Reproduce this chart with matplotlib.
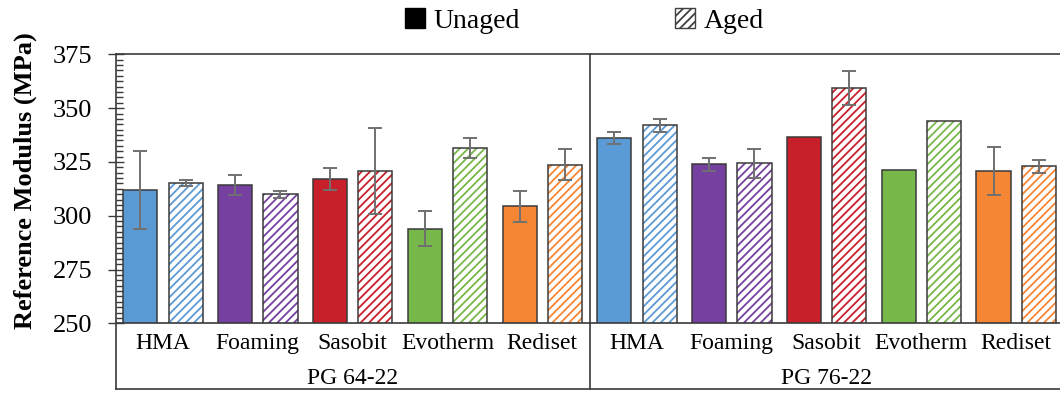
import matplotlib
matplotlib.use('Agg')
import matplotlib.pyplot as plt
from matplotlib.patches import Patch
from matplotlib.ticker import MultipleLocator
import numpy as np

plt.rcParams['font.family'] = ['Liberation Serif', 'DejaVu Serif']
plt.rcParams['hatch.linewidth'] = 1.3

mixes = ['HMA', 'Foaming', 'Sasobit', 'Evotherm', 'Rediset']
binders = ['PG 64-22', 'PG 76-22']
categories = mixes * 2
unaged = [312.0, 314.3, 317.1, 294.0, 304.4, 336.1, 323.9, 336.7, 321.4, 320.8]
unaged_err = [18.0, 4.7, 5.0, 8.0, 7.3, 3.0, 3.1, 0.0, 0.0, 11.2]
aged = [315.1, 309.9, 320.8, 331.5, 323.7, 342.0, 324.3, 359.5, 344.0, 323.0]
aged_err = [1.5, 1.8, 20.0, 4.8, 7.1, 3.1, 6.6, 7.9, 0.0, 3.0]
mix_colors = ['#5B9BD5', '#7540A0', '#C8202A', '#76B84A', '#F58634']
colors = mix_colors * 2

fig = plt.figure(figsize=(10.6, 3.94), dpi=100)
ax = fig.add_axes([0.1091, 0.1794, 0.8943, 0.6827])

x = np.arange(len(categories))
off = 0.239
w = 0.36
edge = '#3A3A3A'
errc = '#707070'

ax.bar(x - off, unaged, w, color=colors, edgecolor=edge, linewidth=1.1, zorder=2)
ax.bar(x + off, aged, w, color='white', edgecolor=colors, hatch='////', linewidth=0, zorder=2)
ax.bar(x + off, aged, w, fill=False, edgecolor=edge, linewidth=1.1, zorder=3)

ue = np.array(unaged_err); ae = np.array(aged_err)
m = ue > 0
ax.errorbar((x - off)[m], np.array(unaged)[m], yerr=ue[m], fmt='none', ecolor=errc,
            elinewidth=1.4, capsize=5, capthick=1.4, zorder=4)
m = ae > 0
ax.errorbar((x + off)[m], np.array(aged)[m], yerr=ae[m], fmt='none', ecolor=errc,
            elinewidth=1.4, capsize=5, capthick=1.4, zorder=4)

ax.set_xlim(-0.5, len(categories) - 0.5)
ax.set_ylim(250, 375)
ax.yaxis.set_major_locator(MultipleLocator(25))
ax.yaxis.set_minor_locator(MultipleLocator(2.5))
ax.tick_params(axis='y', which='major', direction='inout', length=11.5, width=1.0,
               labelsize=19, pad=11, color='#3A3A3A')
ax.tick_params(axis='y', which='minor', direction='in', length=5, width=1.0, color='#3A3A3A')
ax.set_xticks(x)
ax.set_xticklabels(categories, fontsize=17)
ax.tick_params(axis='x', length=0, pad=7)

for s in ['left', 'top', 'bottom', 'right']:
    ax.spines[s].set_color('#3A3A3A')
    ax.spines[s].set_linewidth(1.2)

tr = ax.get_xaxis_transform()
depth = -0.245
for xv in [-0.5, 4.5, 9.5]:
    ax.plot([xv, xv], [depth, 0 if xv != 4.5 else 1], transform=tr, color='#3A3A3A',
            lw=1.2, clip_on=False, zorder=5)
ax.plot([-0.5, 9.5], [depth, depth], transform=tr, color='#3A3A3A', lw=1.2, clip_on=False)
for i, b in enumerate(binders):
    ax.text(2 + 5 * i, -0.205, b, transform=tr, ha='center', va='center', fontsize=17)

ax.set_ylabel('Reference Modulus (MPa)', fontsize=19, fontweight='bold')
ax.yaxis.set_label_coords(-0.083, 0.53)

handles = [Patch(facecolor='black', edgecolor='black', label='Unaged'),
           Patch(facecolor='white', edgecolor='#404040', hatch='////', label='Aged')]
fig.legend(handles=handles, loc='center', bbox_to_anchor=(0.551, 0.946), ncol=2,
           frameon=False, fontsize=20, handlelength=0.72, handleheight=0.72,
           handletextpad=0.3, columnspacing=5.6, borderpad=0)

fig.savefig('out.png', dpi=100)
